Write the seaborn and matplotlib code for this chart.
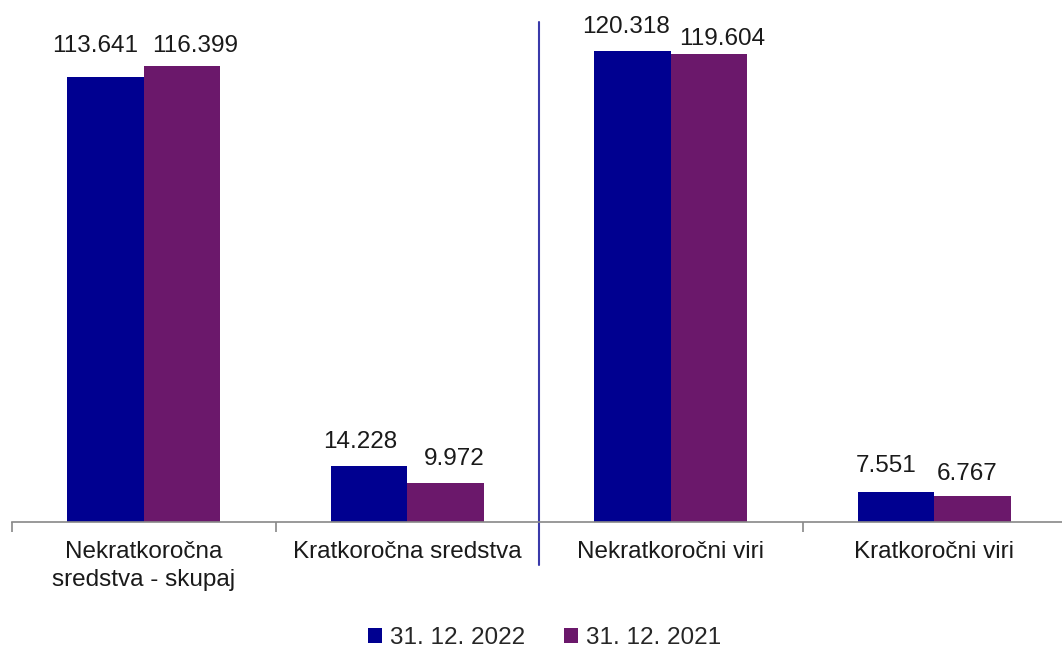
import matplotlib.pyplot as plt
import pandas as pd
import seaborn as sns

categories = ['Nekratkoročna\nsredstva - skupaj', 'Kratkoročna sredstva',
              'Nekratkoročni viri', 'Kratkoročni viri']
series_names = ['31. 12. 2022', '31. 12. 2021']
values_2022 = [113641, 14228, 120318, 7551]
values_2021 = [116399, 9972, 119604, 6767]
colors = ['#000090', '#6B186B']

# label nudges (px) so neighbouring labels don't collide, like the original
nudge = {
    0: [(-10, 7), (-9, 0), (-7, 0), (-10, 2)],
    1: [(13, -4), (9, 0), (13, -9), (-5, -2)],
}


def fmt(v):
    return f'{int(round(v)):,}'.replace(',', '.')


sns.set_style('white')
plt.rcParams['font.family'] = ['Liberation Sans', 'DejaVu Sans']

df = pd.DataFrame({
    'kategorija': categories * 2,
    'datum': [series_names[0]] * 4 + [series_names[1]] * 4,
    'vrednost': values_2022 + values_2021,
})

fig = plt.figure(figsize=(10.62, 6.5), dpi=100)
ax = fig.add_axes([12 / 1062, 128 / 650, 1054 / 1062, 509 / 650])

sns.barplot(data=df, x='kategorija', y='vrednost', hue='datum',
            palette=colors, width=0.58, gap=0, saturation=1,
            errorbar=None, ax=ax, legend=True, linewidth=0)

px = 72 / 100
for i, cont in enumerate(ax.containers):
    anns = ax.bar_label(cont, labels=[fmt(v) for v in cont.datavalues],
                        padding=13 * px, fontsize=17.5, color='#1a1a1a')
    for ann, (dx, dy) in zip(anns, nudge[i]):
        ann.xyann = (dx * px, 13 * px + dy * px)

ax.set_xlim(-0.5, 3.5)
ax.set_ylim(0, 130000)
ax.set_xlabel('')
ax.set_ylabel('')
ax.set_yticks([])
for s in ['top', 'right', 'left']:
    ax.spines[s].set_visible(False)
ax.spines['bottom'].set_color('#888888')
ax.spines['bottom'].set_linewidth(1.2)

# category labels centred, tick marks on boundaries
ax.tick_params(axis='x', which='major', bottom=False, length=0, pad=14,
               labelsize=17.5, labelcolor='#1a1a1a')
for lab in ax.get_xticklabels():
    lab.set_linespacing(1.3)
ax.set_xticks([-0.5, 0.5, 1.5, 2.5, 3.5], minor=True)
ax.tick_params(axis='x', which='minor', bottom=True, direction='out',
               length=7, color='#888888', width=1.2)

# separator between assets and liabilities
ax.axvline(1.5, ymin=-0.0845, ymax=0.982, color='#3A3AAA', lw=1.5,
           clip_on=False)

handles, labels = ax.get_legend_handles_labels()
ax.legend_.remove()
fig.legend(handles, labels, loc='center', bbox_to_anchor=(0.513, 0.018),
           ncol=2, frameon=False, fontsize=17.5, handlelength=0.55,
           handleheight=0.55, handletextpad=0.35, columnspacing=1.6)

fig.savefig('out.png', dpi=100)
